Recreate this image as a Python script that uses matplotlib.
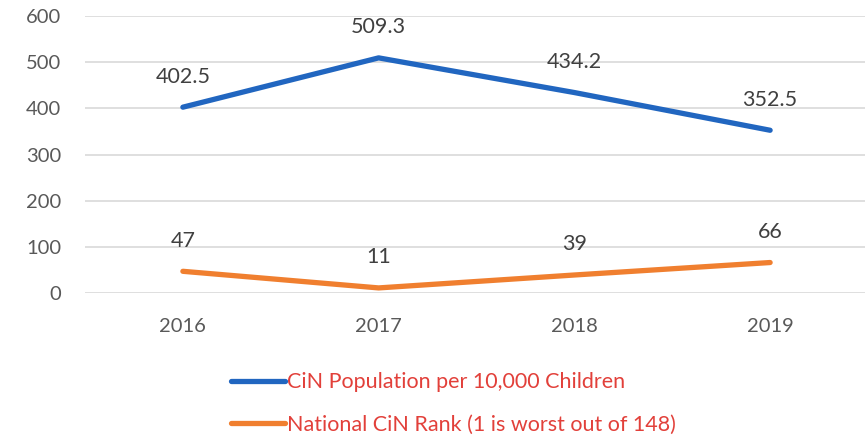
import matplotlib.pyplot as plt

years = ["2016", "2017", "2018", "2019"]
population = [402.5, 509.3, 434.2, 352.5]
rank = [47, 11, 39, 66]
pop_label = "CiN Population per 10,000 Children"
rank_label = "National CiN Rank (1 is worst out of 148)"

plt.rcParams['font.family'] = ['Lato', 'DejaVu Sans']

fig = plt.figure(figsize=(8.65, 4.38), dpi=100)
ax = fig.add_axes([85/865, 145/438, 783/865, 277/438])

x = range(len(years))
l1, = ax.plot(x, population, color="#2166C0", lw=3.8, solid_capstyle="round", label=pop_label)
l2, = ax.plot(x, rank, color="#F07F2F", lw=3.8, solid_capstyle="round", label=rank_label)

# etiquetas de datos
for i, v in enumerate(population):
    ax.annotate(f"{v}", (i, v), xytext=(0, 22), textcoords="offset points",
                ha="center", va="center", fontsize=15.5, color="#404040")
for i, v in enumerate(rank):
    ax.annotate(f"{v}", (i, v), xytext=(0, 22), textcoords="offset points",
                ha="center", va="center", fontsize=15.5, color="#404040")

ax.set_xlim(-0.5, 3.5)
ax.set_ylim(0, 600)
ax.set_yticks(range(0, 601, 100))
ax.set_xticks(list(x))
ax.set_xticklabels(years)
ax.grid(axis="y", color="#D9D9D9", lw=1.2)
ax.set_axisbelow(True)
for s in ax.spines.values():
    s.set_visible(False)
ax.tick_params(length=0, labelsize=14.5, colors="#595959", pad=18)
ax.tick_params(axis="y", pad=17)

leg = fig.legend(handles=[l1, l2], loc="upper left", bbox_to_anchor=(212/865, 1 - 353/438),
                 frameon=False, fontsize=15.5, handlelength=2.5, handletextpad=0.1,
                 labelspacing=1.05, labelcolor="#E2403A")

fig.savefig("out.png", dpi=100)
